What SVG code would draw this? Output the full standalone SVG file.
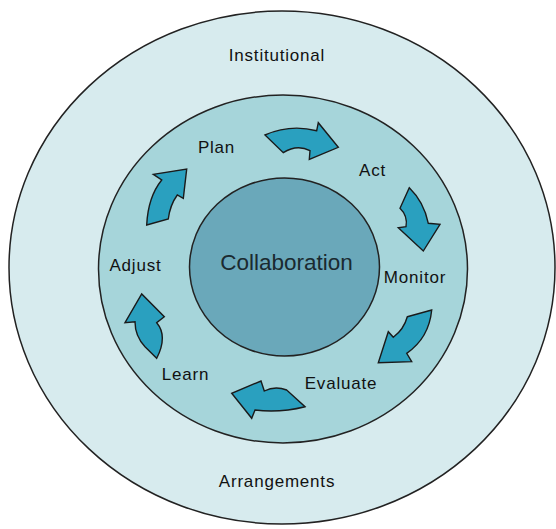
<svg xmlns="http://www.w3.org/2000/svg" width="556" height="529" viewBox="0 0 556 529">
<style>
.ring{stroke:#222;stroke-width:1.5}
.arrow{fill:#2aa0bf;stroke:#1a1a1a;stroke-width:1.4;stroke-linejoin:miter}
.lbl{font-family:"Liberation Sans",Arial,sans-serif;font-size:17px;letter-spacing:0.8px;fill:#111;text-anchor:middle}
.big{font-family:"Liberation Sans",Arial,sans-serif;font-size:22.5px;fill:#1a2a30;text-anchor:middle}
</style>
<rect width="556" height="529" fill="#ffffff"/>
<g id="outer">
<ellipse class="ring" cx="282" cy="267.5" rx="273" ry="256.5" fill="#d7ebee"/>
<text class="lbl" x="277" y="60.5">Institutional</text>
<text class="lbl" x="277" y="486.5">Arrangements</text>
</g>
<g id="middle">
<ellipse class="ring" cx="283" cy="269" rx="184.5" ry="174" fill="#a6d5da"/>
</g>
<g id="center">
<ellipse class="ring" cx="284.5" cy="267" rx="95" ry="89" fill="#6aa8ba"/>
<text class="big" x="286.5" y="270">Collaboration</text>
</g>
<g id="plan"><text class="lbl" x="216.5" y="153">Plan</text></g>
<g id="act"><text class="lbl" x="372.5" y="176">Act</text></g>
<g id="monitor"><text class="lbl" x="415" y="283">Monitor</text></g>
<g id="evaluate"><text class="lbl" x="341" y="389">Evaluate</text></g>
<g id="learn"><text class="lbl" x="185.5" y="380">Learn</text></g>
<g id="adjust"><text class="lbl" x="135.5" y="271">Adjust</text></g>
<g id="connectors">
<path class="arrow" d="M265,135 Q290,124 316.7,130.7 L318.3,122.7 L338.3,147.3 L309.3,159.3 L310,150.7 Q297,144 283.3,152.7 Z"/>
<path class="arrow" d="M409.3,187.7 Q424,202 428.3,223.3 L440,224.3 L423.3,251 L398.3,227.7 L406,226.7 Q408,216 400,208.3 Z"/>
<path class="arrow" d="M407.3,316.7 L431.7,310 Q429,338 406.7,353.3 L411.7,361.7 L378.3,362.7 L388.3,331.7 L393.3,337.3 Q404,329 407.3,316.7 Z"/>
<path class="arrow" d="M286.7,390 Q275,385.5 264.3,391 L261,381 L231.7,393.3 L251.7,418.3 L255,410 Q280,413 305,406.7 Z"/>
<path class="arrow" d="M145,346.7 L156.7,358.3 Q168,336 156.7,322.7 L164.3,316.7 L141.7,294 L125,322.7 L135,321.7 Q135,336 145,346.7 Z"/>
<path class="arrow" d="M146.7,225 Q148,197 161.7,180 L153.3,174.3 L186.7,169 L183.3,198.3 L177.3,195 Q170,205 168.3,219 Z"/>
</g>
</svg>
